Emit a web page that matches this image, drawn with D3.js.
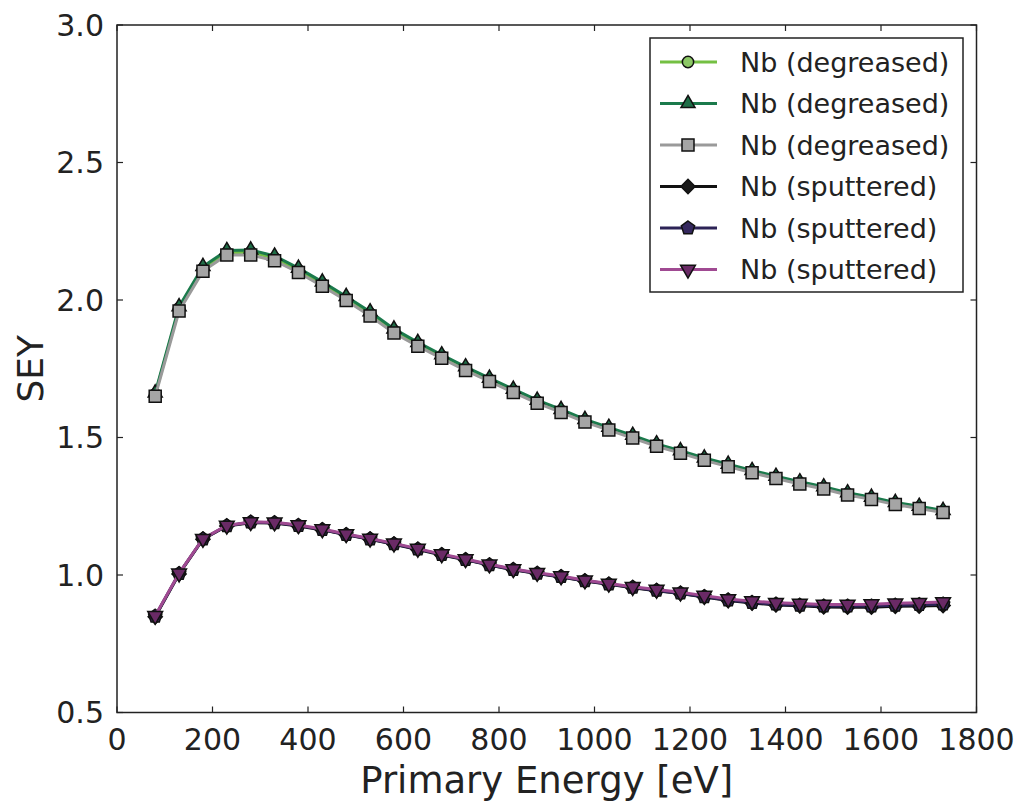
<!DOCTYPE html>
<html>
<head>
<meta charset="utf-8">
<script src="https://cdn.jsdelivr.net/npm/d3@7"></script>
<style>
  body { margin: 0; background: #fff; }
  text { font-family: "DejaVu Sans", sans-serif; fill: #222; }
</style>
</head>
<body>
<div id="app"></div>
<script>
var energy = [80, 130, 180, 230, 280, 330, 380, 430, 480, 530, 580, 630, 680, 730, 780, 830, 880,
    930, 980, 1030, 1080, 1130, 1180, 1230, 1280, 1330, 1380, 1430, 1480, 1530, 1580, 1630, 1680, 1730];

var degCircle = [1.657, 1.970, 2.114, 2.172, 2.174, 2.152, 2.108, 2.058, 2.006, 1.950, 1.888, 1.840,
    1.795, 1.751, 1.710, 1.670, 1.631, 1.597, 1.561, 1.532, 1.503, 1.473, 1.448, 1.422, 1.399, 1.376,
    1.355, 1.335, 1.317, 1.295, 1.279, 1.260, 1.246, 1.231];
var degTriangle = [1.662, 1.976, 2.122, 2.180, 2.182, 2.160, 2.116, 2.066, 2.013, 1.957, 1.895, 1.846,
    1.801, 1.757, 1.716, 1.676, 1.636, 1.602, 1.566, 1.537, 1.508, 1.477, 1.452, 1.426, 1.403, 1.380,
    1.359, 1.339, 1.321, 1.299, 1.283, 1.264, 1.250, 1.235];
var degSquare = [1.650, 1.960, 2.105, 2.164, 2.164, 2.143, 2.100, 2.050, 1.998, 1.942, 1.880, 1.832,
    1.788, 1.744, 1.704, 1.664, 1.625, 1.591, 1.556, 1.527, 1.498, 1.468, 1.443, 1.417, 1.394, 1.372,
    1.351, 1.331, 1.313, 1.291, 1.275, 1.256, 1.242, 1.227];
var sputDiamond = [0.848, 1.004, 1.130, 1.178, 1.190, 1.189, 1.178, 1.164, 1.146, 1.130, 1.112, 1.093,
    1.073, 1.055, 1.036, 1.019, 1.005, 0.993, 0.978, 0.966, 0.954, 0.943, 0.933, 0.920, 0.907, 0.898,
    0.891, 0.888, 0.884, 0.883, 0.883, 0.886, 0.887, 0.889];
var sputPentagon = [0.850, 1.005, 1.131, 1.179, 1.192, 1.190, 1.180, 1.165, 1.147, 1.131, 1.113, 1.094,
    1.074, 1.056, 1.037, 1.020, 1.006, 0.994, 0.979, 0.967, 0.955, 0.944, 0.934, 0.921, 0.909, 0.900,
    0.894, 0.890, 0.887, 0.887, 0.887, 0.890, 0.892, 0.894];
var sputTriangle = [0.852, 1.006, 1.132, 1.180, 1.193, 1.192, 1.182, 1.167, 1.149, 1.133, 1.115, 1.096,
    1.076, 1.058, 1.039, 1.022, 1.008, 0.996, 0.981, 0.969, 0.957, 0.947, 0.937, 0.925, 0.913, 0.905,
    0.899, 0.896, 0.893, 0.893, 0.894, 0.897, 0.899, 0.902];

var labels = ["Nb (degreased)", "Nb (degreased)", "Nb (degreased)",
    "Nb (sputtered)", "Nb (sputtered)", "Nb (sputtered)"];
var xTicks = [0, 200, 400, 600, 800, 1000, 1200, 1400, 1600, 1800];
var yTicks = [0.5, 1.0, 1.5, 2.0, 2.5, 3.0];

var W = 1023, H = 803;
var plotL = 117, plotR = 976.5, plotT = 25, plotB = 712.5;

var svg = d3.select("#app").append("svg").attr("width", W).attr("height", H);

var x = d3.scaleLinear().domain([0, 1800]).range([plotL, plotR]);
var y = d3.scaleLinear().domain([0.5, 3.0]).range([plotB, plotT]);

// marker shapes
function pentagon(r) {
    var pts = d3.range(5).map(function (i) {
        var a = -Math.PI / 2 + i * 2 * Math.PI / 5;
        return [r * Math.cos(a), r * Math.sin(a)];
    });
    return "M" + pts.join("L") + "Z";
}
var shapes = {
    circle: { d: d3.symbol(d3.symbolCircle, 100)(), rot: 0 },
    triangle: { d: d3.symbol(d3.symbolTriangle, 85)(), rot: 0 },
    square: { d: d3.symbol(d3.symbolSquare, 144)(), rot: 0 },
    diamond: { d: d3.symbol(d3.symbolSquare, 100)(), rot: 45 },
    pentagon: { d: pentagon(7), rot: 0 },
    invtri: { d: d3.symbol(d3.symbolTriangle, 95)(), rot: 180 }
};

var series = [
    { vals: degCircle, line: "#74c043", face: "#8cc866", shape: "circle" },
    { vals: degTriangle, line: "#1b7a4c", face: "#1f6e47", shape: "triangle" },
    { vals: degSquare, line: "#9a9a9a", face: "#a5a5a5", shape: "square" },
    { vals: sputDiamond, line: "#111111", face: "#1a1a1a", shape: "diamond" },
    { vals: sputPentagon, line: "#2c2356", face: "#35285e", shape: "pentagon" },
    { vals: sputTriangle, line: "#a04a92", face: "#6a2a66", shape: "invtri" }
];

var line = d3.line()
    .x(function (d) { return x(d[0]); })
    .y(function (d) { return y(d[1]); });

var plot = svg.append("g");
series.forEach(function (s) {
    var pts = energy.map(function (e, i) { return [e, s.vals[i]]; });
    plot.append("path")
        .attr("d", line(pts))
        .style("fill", "none")
        .style("stroke", s.line)
        .style("stroke-width", 3);
    plot.selectAll(null)
        .data(pts)
        .enter()
        .append("path")
        .attr("d", shapes[s.shape].d)
        .attr("transform", function (d) {
            return "translate(" + x(d[0]) + "," + y(d[1]) + ") rotate(" + shapes[s.shape].rot + ")";
        })
        .style("fill", s.face)
        .style("stroke", "#111")
        .style("stroke-width", 1.5);
});

// AXES (inward ticks on all sides)
var tickLen = 6;
var axisG = svg.append("g");
axisG.append("rect")
    .attr("x", plotL).attr("y", plotT)
    .attr("width", plotR - plotL).attr("height", plotB - plotT)
    .style("fill", "none").style("stroke", "#222").style("stroke-width", 1.5);

xTicks.forEach(function (t) {
    axisG.append("line").attr("x1", x(t)).attr("x2", x(t))
        .attr("y1", plotB).attr("y2", plotB - tickLen)
        .style("stroke", "#222").style("stroke-width", 1.2);
    axisG.append("line").attr("x1", x(t)).attr("x2", x(t))
        .attr("y1", plotT).attr("y2", plotT + tickLen)
        .style("stroke", "#222").style("stroke-width", 1.2);
    axisG.append("text").attr("x", x(t)).attr("y", 750)
        .attr("text-anchor", "middle")
        .style("font-size", "30px")
        .text(t);
});
yTicks.forEach(function (t) {
    axisG.append("line").attr("x1", plotL).attr("x2", plotL + tickLen)
        .attr("y1", y(t)).attr("y2", y(t))
        .style("stroke", "#222").style("stroke-width", 1.2);
    axisG.append("line").attr("x1", plotR).attr("x2", plotR - tickLen)
        .attr("y1", y(t)).attr("y2", y(t))
        .style("stroke", "#222").style("stroke-width", 1.2);
    axisG.append("text").attr("x", 104).attr("y", y(t))
        .attr("text-anchor", "end")
        .attr("dominant-baseline", "central")
        .style("font-size", "30px")
        .text(d3.format(".1f")(t));
});

axisG.append("text")
    .attr("x", (plotL + plotR) / 2).attr("y", 793)
    .attr("text-anchor", "middle")
    .style("font-size", "37px")
    .text("Primary Energy [eV]");
axisG.append("text")
    .attr("transform", "translate(43," + ((plotT + plotB) / 2) + ") rotate(-90)")
    .attr("text-anchor", "middle")
    .style("font-size", "36px")
    .text("SEY");

// LEGEND
var lgX = 650, lgY = 38, lgW = 313, lgH = 254, rowH = 41.5;
var legend = svg.append("g");
legend.append("rect")
    .attr("x", lgX).attr("y", lgY).attr("width", lgW).attr("height", lgH)
    .style("fill", "#fff").style("stroke", "#222").style("stroke-width", 1.5);
series.forEach(function (s, i) {
    var cy = 62 + i * rowH;
    legend.append("line")
        .attr("x1", 660).attr("x2", 717).attr("y1", cy).attr("y2", cy)
        .style("stroke", s.line).style("stroke-width", 3);
    legend.append("path")
        .attr("d", shapes[s.shape].d)
        .attr("transform", "translate(688," + cy + ") rotate(" + shapes[s.shape].rot + ")")
        .style("fill", s.face).style("stroke", "#111").style("stroke-width", 1.5);
    legend.append("text")
        .attr("x", 740).attr("y", cy)
        .attr("dominant-baseline", "central")
        .style("font-size", "27px")
        .text(labels[i]);
});
</script>
</body>
</html>
